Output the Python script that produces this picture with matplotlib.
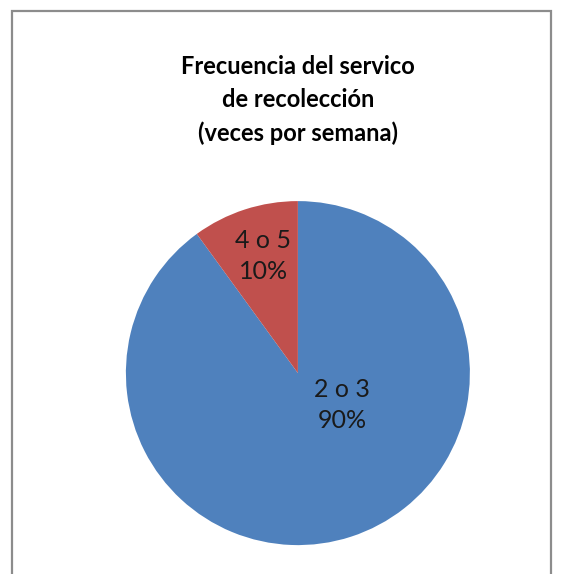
import numpy as np
import matplotlib
matplotlib.use('Agg')
import matplotlib.pyplot as plt
from matplotlib.patches import Rectangle

plt.rcParams['font.family'] = ['Lato', 'DejaVu Sans']

categories = ['2 o 3', '4 o 5']
values = [90, 10]
colors = ['#4F81BD', '#C0504D']
title = 'Frecuencia del servico\nde recolección\n(veces por semana)'

fig = plt.figure(figsize=(5.61, 5.74), dpi=100)
fig.patch.set_facecolor('white')

# chart border (bottom edge falls outside the image)
fig.patches.append(Rectangle((11.5 / 561, -0.05), 539 / 561, 1.05 - 10.5 / 574,
                             transform=fig.transFigure, fill=False,
                             edgecolor='#8c8c8c', linewidth=1.6))

fig.text(0.531, 1 - 100 / 574, title, ha='center', va='center',
         fontsize=17, fontweight='bold', linespacing=1.52)

ax = fig.add_axes([0.531 - 0.3066, 0.350 - 0.2997, 0.6132, 0.5994])
wedges, _ = ax.pie(values, colors=colors, startangle=90, counterclock=False,
                   wedgeprops=dict(linewidth=0))
ax.set_xlim(-1, 1)
ax.set_ylim(-1, 1)
ax.set_aspect('equal')

# labels
pos = [(0.256, -0.186), (-0.2, 0.68)]
tot = sum(values)
for i, w in enumerate(wedges):
    txt = '%s\n%d%%' % (categories[i], round(values[i] * 100 / tot))
    ax.text(pos[i][0], pos[i][1], txt, ha='center', va='center', fontsize=18,
            linespacing=1.45, color='#1a1a1a')

plt.savefig('out.png', dpi=100)
